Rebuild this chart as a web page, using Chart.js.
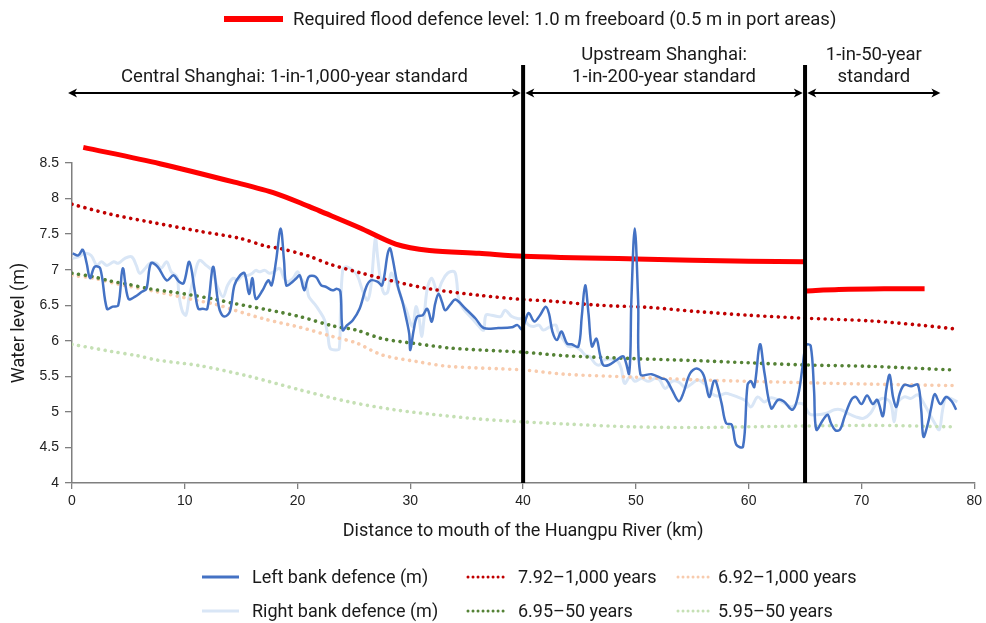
<!DOCTYPE html>
<html><head><meta charset="utf-8">
<script src="https://cdn.jsdelivr.net/npm/chart.js@4.4.1/dist/chart.umd.min.js"></script>
<style>html,body{margin:0;padding:0;background:#fff;}#wrap{position:relative;width:986px;height:623px;}</style>
</head><body><div id="wrap"><canvas id="c" width="986" height="623"></canvas></div>
<script>
// ---------- tick labels ----------
const xTickValues = [0, 10, 20, 30, 40, 50, 60, 70, 80];
const yTickValues = [4, 4.5, 5, 5.5, 6, 6.5, 7, 7.5, 8, 8.5];

// ---------- zone annotations ----------
const zoneDividers = [40, 65];
const zoneArrows = [[-0.35, 39.8], [40.2, 64.8], [65.2, 77.0]];
const zoneLabels = [
  ["Central Shanghai: 1-in-1,000-year standard"],
  ["Upstream Shanghai:", "1-in-200-year standard"],
  ["1-in-50-year", "standard"]
];

// ---------- series: left bank defence (m) ----------
const leftKm = [0.06,0.56,0.95,1.3,1.6,2.0,2.5,3.1,3.6,4.1,4.5,5.0,5.6,6.2,6.6,7.0,7.6,8.4,9.0,9.5,9.9,10.4,10.9,11.2,11.6,12.0,12.5,12.9,13.1,13.5,14.0,14.4,14.9,15.3,15.7,16.0,16.3,16.9,17.4,17.7,18.1,18.5,18.8,19.0,19.4,19.9,20.2,20.6,21.0,21.6,22.1,22.5,23.1,23.5,23.8,24.0,24.4,24.9,25.5,26.1,26.5,27.1,27.5,28.0,28.2,28.4,28.9,29.3,29.6,29.9,30.0,30.3,30.6,31.1,31.5,31.9,32.2,32.5,32.8,33.1,33.6,34.0,34.9,35.8,36.5,37.8,39.0,39.5,39.9,40.2,40.5,41.0,41.5,42.0,42.3,42.6,43.0,43.4,43.9,44.3,44.9,45.2,45.5,45.8,46.1,46.5,46.8,47.1,47.6,48.3,48.9,49.4,49.6,49.9,50.2,50.4,51.4,52.3,52.7,53.2,53.8,54.2,54.8,55.4,56.0,56.5,56.9,57.1,57.6,58.0,58.5,58.9,59.5,59.9,60.2,60.5,61.0,61.4,62.0,62.6,63.1,63.9,64.4,64.8,65.1,65.5,65.8,66.0,66.6,67.0,67.3,67.7,68.1,68.5,69.1,69.5,70.0,70.5,71.0,71.4,71.9,72.2,72.5,72.8,73.1,73.4,73.8,74.4,75.0,75.3,75.5,75.9,76.2,76.5,77.0,77.5,78.0,78.4];
const leftLevel = [7.23,7.20,7.28,7.09,6.88,7.04,7.02,6.45,6.48,6.50,7.02,6.59,6.62,6.69,6.73,7.09,7.04,6.85,6.92,6.83,6.81,7.11,6.69,6.45,6.45,6.45,7.04,6.60,6.43,6.34,6.41,6.78,6.92,6.95,6.66,6.88,6.59,6.71,6.85,6.78,7.13,7.58,7.13,6.78,6.81,6.88,6.92,6.71,6.90,6.90,6.78,6.76,6.71,6.73,6.69,6.15,6.22,6.29,6.45,6.76,6.85,6.83,6.78,7.23,7.30,7.18,6.76,6.55,6.34,6.10,5.87,6.15,6.34,6.36,6.45,6.27,6.52,6.66,6.55,6.43,6.52,6.58,6.45,6.31,6.18,6.18,6.19,6.22,6.16,6.29,6.39,6.27,6.36,6.48,6.38,6.13,6.01,6.13,5.96,5.95,5.92,6.34,6.78,6.38,5.92,6.03,5.82,5.66,5.66,5.73,5.78,5.54,6.57,7.58,6.57,5.53,5.53,5.47,5.45,5.31,5.15,5.26,5.54,5.61,5.52,5.21,5.43,5.43,5.12,4.84,4.82,4.54,4.51,5.38,5.43,5.35,5.95,5.55,5.05,5.17,5.15,5.03,5.24,5.66,5.94,5.93,5.30,4.75,4.89,4.96,4.84,4.74,4.75,4.93,5.17,5.21,5.11,5.23,5.11,5.17,4.94,5.31,5.52,5.21,5.07,5.26,5.38,5.36,5.38,5.03,4.65,4.84,5.07,5.25,5.11,5.21,5.15,5.03];

// ---------- series: right bank defence (m) ----------
const rightKm = [0.06,0.56,1.15,1.7,2.2,2.6,3.1,3.7,4.1,4.7,5.3,5.7,6.0,6.5,6.9,7.5,7.9,8.4,8.8,9.3,9.5,9.8,10.1,10.4,10.9,11.3,11.9,12.4,12.9,13.4,13.8,14.3,14.7,15.1,15.6,16.0,16.3,16.6,17.1,17.5,17.9,18.4,18.8,19.1,19.6,20.0,20.3,20.8,21.0,21.5,21.9,22.4,22.7,22.9,23.4,23.7,23.8,24.0,24.3,24.9,25.3,25.8,26.2,26.5,26.9,27.1,27.4,27.7,28.0,28.3,28.7,29.0,29.3,29.6,30.2,30.5,30.8,31.0,31.2,31.5,31.9,32.4,32.8,33.3,33.9,34.1,34.3,34.7,35.5,36.1,36.5,36.7,37.2,38.0,38.4,39.0,39.6,40.0,40.5,40.9,41.4,41.8,42.4,42.9,43.1,43.6,44.0,44.6,45.1,45.5,45.9,46.4,46.8,47.2,47.9,48.4,48.7,49.0,49.5,49.9,50.5,51.1,51.7,52.1,52.6,53.2,53.8,54.4,54.9,55.5,56.1,56.7,57.3,57.9,58.5,59.0,59.7,60.2,60.8,61.4,62.0,62.6,63.2,63.8,64.4,64.9,65.4,66.1,66.9,67.6,68.2,68.8,69.5,70.2,70.8,71.4,72.0,72.6,72.9,73.2,73.8,74.4,75.0,75.6,76.5,76.9,77.2,77.5,77.9,78.5];
const rightLevel = [7.16,7.18,7.23,7.20,7.06,7.11,7.06,7.11,7.09,7.16,7.18,7.06,6.95,7.02,7.09,7.09,7.02,7.11,6.97,6.90,6.62,6.41,6.36,6.62,6.95,7.13,7.06,6.99,6.76,6.62,6.78,6.88,6.85,6.92,6.92,6.95,6.99,6.97,6.99,6.95,6.97,7.02,6.88,6.83,6.88,6.97,6.88,6.76,6.62,6.52,6.43,6.29,6.06,5.89,5.87,5.89,6.38,6.99,7.04,6.99,6.92,6.69,6.57,6.76,7.44,7.18,6.81,6.66,6.69,6.95,6.83,6.71,6.55,6.45,6.20,6.48,6.29,6.06,6.29,6.73,6.88,6.69,6.83,6.95,6.97,6.85,6.57,6.45,6.31,6.20,6.15,6.36,6.36,6.34,6.43,6.34,6.31,6.31,6.22,6.20,6.22,6.15,6.20,6.22,6.13,6.01,5.92,5.92,5.87,5.80,5.78,5.68,5.66,5.73,5.74,5.71,5.61,5.40,5.50,5.43,5.47,5.43,5.47,5.45,5.33,5.43,5.42,5.34,5.39,5.45,5.39,5.26,5.22,5.26,5.24,5.21,5.16,5.07,5.21,5.14,5.20,5.17,5.12,5.07,5.12,5.10,4.97,4.96,4.98,5.03,5.03,4.98,4.93,4.91,4.98,5.14,5.19,5.12,4.86,5.12,5.21,5.19,5.24,5.10,4.84,4.75,5.03,5.21,5.19,5.14];

// ---------- series: required flood defence level (two reaches) ----------
const requiredKmA = [1.0,7.8,14.4,18.1,21.0,21.9,25.5,28.7,31.7,36.1,40.0,50.0,60.0,65.0];
const requiredLevelA = [8.72,8.49,8.23,8.07,7.89,7.83,7.59,7.36,7.27,7.23,7.19,7.15,7.12,7.11];
const requiredKmB = [65.0,68.0,72.0,75.6];
const requiredLevelB = [6.70,6.72,6.73,6.73];

// ---------- series: water levels ----------
const wl792Km = [0,3.4,6.9,11.3,14.9,17.2,18.4,21.0,22.8,25.7,28.7,31.7,36.1,40,42.3,46.7,51.1,55.5,59.9,64.6,70.8,75.2,78.1];
const wl792 = [7.92,7.78,7.67,7.54,7.44,7.33,7.30,7.19,7.08,6.95,6.83,6.73,6.64,6.58,6.56,6.50,6.47,6.41,6.36,6.32,6.28,6.22,6.17];
const wl692Km = [0,1.9,4.0,7.5,11.0,12.8,14.2,17.2,20.2,23.1,25.2,27.5,30.5,33.4,40,43.7,49.6,55.5,60,65,70.8,78.1];
const wl692 = [6.92,6.88,6.80,6.69,6.57,6.51,6.44,6.30,6.19,6.06,5.97,5.80,5.71,5.64,5.59,5.53,5.49,5.45,5.43,5.41,5.39,5.37];
const wl695Km = [0,1.9,3.4,4.8,6.9,8.7,10.7,12.8,14.2,17.2,20.2,23.1,25.2,27.5,30.5,33.4,36.3,40,43.7,49.6,55.5,60,65,70.8,78.1];
const wl695 = [6.95,6.90,6.84,6.80,6.73,6.69,6.64,6.58,6.53,6.44,6.34,6.21,6.15,6.03,5.96,5.90,5.87,5.84,5.79,5.75,5.72,5.69,5.66,5.64,5.59];
const wl595Km = [0,3.5,5.8,7.5,11.3,15.7,20.2,24.6,28.6,31.7,36.1,40,43.7,49.6,55.5,60,70.8,78.1];
const wl595 = [5.95,5.85,5.79,5.73,5.65,5.50,5.31,5.14,5.03,4.97,4.90,4.86,4.83,4.79,4.78,4.79,4.81,4.79];

const legendTop = "Required flood defence level: 1.0 m freeboard (0.5 m in port areas)";
const legendNames = ["Left bank defence (m)", "Right bank defence (m)", "7.92\u20131,000 years", "6.95\u201350 years", "6.92\u20131,000 years", "5.95\u201350 years"];

const pts = (xs, ys) => xs.map((v, i) => ({x: v, y: ys[i]}));

const C_LEFT = '#4472C4', C_RIGHT = '#D9E6F6', C_REQ = '#FF0000';
const C_792 = '#C00000', C_695 = '#548235', C_692 = '#F8CBAD', C_595 = '#C5E0B4';
const DOT = [0.01, 6.7];
const TXT_FONT = '18px Roboto';
const HEAD_FONT = '18.5px Roboto';
const TXT_COLOR = '#1a1a1a';

function dotted(label, data, color, order) {
  return {label, data, borderColor: color, borderWidth: 3.6, borderDash: DOT, borderCapStyle: 'round',
    pointRadius: 0, tension: 0.3, fill: false, order};
}

const datasets = [
  {label: legendNames[0], data: pts(leftKm, leftLevel), borderColor: C_LEFT, borderWidth: 2.5, pointRadius: 0, tension: 0.35, order: 0},
  {label: 'req A', data: pts(requiredKmA, requiredLevelA), borderColor: C_REQ, borderWidth: 5, pointRadius: 0, tension: 0.3, order: 1, clip: false},
  {label: 'req B', data: pts(requiredKmB, requiredLevelB), borderColor: C_REQ, borderWidth: 5, pointRadius: 0, tension: 0.3, order: 1, clip: false},
  dotted(legendNames[2], pts(wl792Km, wl792), C_792, 2),
  dotted(legendNames[3], pts(wl695Km, wl695), C_695, 2),
  dotted(legendNames[4], pts(wl692Km, wl692), C_692, 2),
  dotted(legendNames[5], pts(wl595Km, wl595), C_595, 2),
  {label: legendNames[1], data: pts(rightKm, rightLevel), borderColor: C_RIGHT, borderWidth: 3, pointRadius: 0, tension: 0.35, order: 3}
];

function arrowHead(ctx, tipX, y, dir) {
  ctx.beginPath();
  ctx.moveTo(tipX, y);
  ctx.lineTo(tipX + dir * 9, y - 4.5);
  ctx.lineTo(tipX + dir * 6.5, y);
  ctx.lineTo(tipX + dir * 9, y + 4.5);
  ctx.closePath();
  ctx.fill();
}

const overlay = {
  id: 'overlay',
  afterDatasetsDraw(chart) {
    const {ctx, chartArea, scales: {x}} = chart;
    ctx.save();
    // zone dividers
    ctx.strokeStyle = '#000'; ctx.lineWidth = 4;
    zoneDividers.forEach(k => {
      const px = x.getPixelForValue(k);
      ctx.beginPath(); ctx.moveTo(px, 65); ctx.lineTo(px, chartArea.bottom); ctx.stroke();
    });
    // arrows
    ctx.lineWidth = 2; ctx.fillStyle = '#000';
    zoneArrows.forEach(([a, b]) => {
      const x1 = x.getPixelForValue(a), x2 = x.getPixelForValue(b);
      ctx.beginPath(); ctx.moveTo(x1 + 3, 93); ctx.lineTo(x2 - 3, 93); ctx.stroke();
      arrowHead(ctx, x1, 93, 1); arrowHead(ctx, x2, 93, -1);
    });
    // zone labels
    ctx.font = HEAD_FONT; ctx.fillStyle = TXT_COLOR; ctx.textAlign = 'center'; ctx.textBaseline = 'middle';
    zoneLabels.forEach((lines, i) => {
      const cx = x.getPixelForValue((zoneArrows[i][0] + zoneArrows[i][1]) / 2);
      lines.forEach((t, j) => ctx.fillText(t, cx, 77 - (lines.length - 1 - j) * 22));
    });
    // top legend
    ctx.strokeStyle = C_REQ; ctx.lineWidth = 6; ctx.lineCap = 'butt';
    ctx.beginPath(); ctx.moveTo(224, 19); ctx.lineTo(283, 19); ctx.stroke();
    ctx.textAlign = 'left';
    ctx.fillText(legendTop, 293, 20);
    // bottom legend
    ctx.font = TXT_FONT;
    const items = [
      {n: 0, c: C_LEFT, dash: null, x: 202, len: 37, tx: 252, y: 578},
      {n: 1, c: C_RIGHT, dash: null, x: 202, len: 37, tx: 252, y: 612},
      {n: 2, c: C_792, dash: [0.01, 5], x: 468, len: 36, tx: 518, y: 578},
      {n: 3, c: C_695, dash: [0.01, 5], x: 468, len: 36, tx: 518, y: 612},
      {n: 4, c: C_692, dash: [0.01, 5], x: 678, len: 31, tx: 718, y: 578},
      {n: 5, c: C_595, dash: [0.01, 5], x: 678, len: 31, tx: 718, y: 612}
    ];
    items.forEach(it => {
      ctx.save();
      ctx.strokeStyle = it.c; ctx.lineWidth = 3;
      if (it.dash) { ctx.setLineDash(it.dash); ctx.lineCap = 'round'; } else { ctx.lineCap = 'butt'; }
      ctx.beginPath(); ctx.moveTo(it.x, it.y - 1); ctx.lineTo(it.x + it.len, it.y - 1); ctx.stroke();
      ctx.restore();
      ctx.fillStyle = TXT_COLOR;
      ctx.fillText(legendNames[it.n], it.tx, it.y);
    });
    ctx.restore();
  }
};

new Chart(document.getElementById('c'), {
  type: 'line',
  data: {datasets},
  options: {
    responsive: false, animation: false,
    layout: {padding: {top: 163, right: 9, left: 0, bottom: 78}},
    plugins: {legend: {display: false}, tooltip: {enabled: false}},
    scales: {
      x: {
        type: 'linear', min: 0, max: 80,
        afterBuildTicks: s => { s.ticks = xTickValues.map(v => ({value: v})); },
        afterFit: s => { s.height = 62; },
        grid: {display: true, drawOnChartArea: false, drawTicks: true, tickLength: 6, color: '#7f7f7f', lineWidth: 1.3},
        border: {display: true, color: '#7f7f7f', width: 1.5},
        ticks: {font: {family: 'Liberation Sans', size: 14}, color: '#222', padding: 4, maxRotation: 0, callback: v => String(v)},
        title: {display: true, text: 'Distance to mouth of the Huangpu River (km)', font: {family: 'Roboto', size: 18}, color: TXT_COLOR, padding: {top: 0, bottom: 3}}
      },
      y: {
        type: 'linear', min: 4, max: 8.5,
        afterBuildTicks: s => { s.ticks = yTickValues.map(v => ({value: v})); },
        afterFit: s => { s.width = 72; },
        grid: {display: true, drawOnChartArea: false, drawTicks: true, tickLength: 7, color: '#7f7f7f', lineWidth: 1.3},
        border: {display: true, color: '#7f7f7f', width: 1.5},
        ticks: {font: {family: 'Liberation Sans', size: 14}, color: '#222', padding: 6, callback: v => String(v)},
        title: {display: true, text: 'Water level (m)', font: {family: 'Roboto', size: 18}, color: TXT_COLOR, padding: {top: 9, bottom: 0}}
      }
    }
  },
  plugins: [overlay]
});
</script></body></html>
